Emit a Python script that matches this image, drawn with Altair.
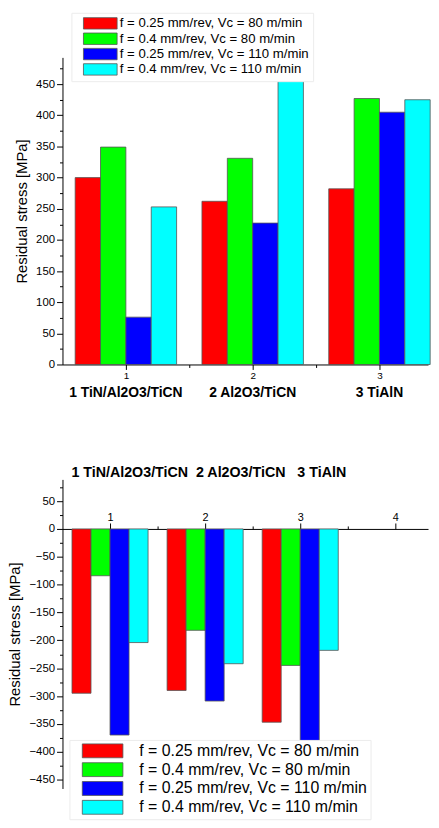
import altair as alt
import pandas as pd

# ---------------- data ----------------
coatings = ["1 TiN/Al2O3/TiCN", "2 Al2O3/TiCN", "3 TiAlN"]
group_idx = [1, 2, 3]
series = [
    "f = 0.25 mm/rev, Vc = 80 m/min",
    "f = 0.4 mm/rev, Vc = 80 m/min",
    "f = 0.25 mm/rev, Vc = 110 m/min",
    "f = 0.4 mm/rev, Vc = 110 m/min",
]
colors = ["#ff0000", "#00ff00", "#0000ff", "#00ffff"]

# upper chart (positive residual stress)
top_s1 = [300, 262, 282]
top_s2 = [349, 331, 427]
top_s3 = [76, 227, 405]
top_s4 = [253, 456, 425]

# lower chart (compressive residual stress)
bot_s1 = [-295, -290, -347]
bot_s2 = [-84, -182, -245]
bot_s3 = [-370, -309, -385]
bot_s4 = [-204, -242, -218]

top_ticks_y = list(range(0, 476, 25))
bot_ticks_y = list(range(-450, 76, 25))
top_ticks_x = [1, 1.5, 2, 2.5, 3]
bot_ticks_x = [1, 1.5, 2, 2.5, 3, 3.5, 4]

bottom_title = "1 TiN/Al2O3/TiCN\u00a0 2 Al2O3/TiCN\u00a0\u00a0 3 TiAlN"


def frame(vals_list):
    rows = []
    for s, (name, vals) in enumerate(zip(series, vals_list)):
        for g, v in zip(group_idx, vals):
            rows.append({"g": g, "s": s, "series": name, "value": v})
    return pd.DataFrame(rows)


df_top = frame([top_s1, top_s2, top_s3, top_s4])
df_bot = frame([bot_s1, bot_s2, bot_s3, bot_s4])
df_lab = pd.DataFrame({"g": group_idx, "name": coatings})

FONT = "Liberation Sans"
INT_LABEL = "datum.value % 1 === 0 ? format(datum.value, 'd') : ''"


def fill_enc(legend):
    return alt.Fill("series:N", scale=alt.Scale(domain=series, range=colors), legend=legend)


def y_axis(values):
    return alt.Axis(title="Residual stress [MPa]", values=values, grid=False,
                    labelExpr="datum.value % 50 === 0 ? datum.label : ''",
                    labelFont=FONT, labelFontSize=11.5, labelColor="#000000",
                    labelPadding=2, labelOverlap=False,
                    tickSize={"condition": {"test": "datum.value % 50 === 0", "value": 6}, "value": 3},
                    tickColor="#000000", domainColor="#000000",
                    titleFont=FONT, titleFontSize=15, titleFontWeight="normal",
                    titleColor="#000000", titlePadding=6)


# ---------------- top chart ----------------
top_legend = alt.Legend(
    orient="none", legendX=9, legendY=-45, title=None,
    symbolType="M-3.09,-1.045H3.09V1.045H-3.09Z", symbolSize=121,
    symbolStrokeColor="#555555", symbolStrokeWidth=0.8,
    symbolOffset=18.5, labelOffset=13,
    labelFont=FONT, labelFontSize=13.3, labelColor="#000000", labelLimit=400,
    rowPadding=0.5, padding=4, fillColor="#ffffff", strokeColor="#ececec",
)

top_bars = alt.Chart(df_top).transform_calculate(
    x1="datum.g - 0.4 + 0.2*datum.s", x2="datum.g - 0.2 + 0.2*datum.s", zero="0"
).mark_rect(stroke="#555555", strokeWidth=0.8).encode(
    x=alt.X("x1:Q", scale=alt.Scale(domain=[0.5, 3.383], nice=False, zero=False),
            axis=alt.Axis(title=None, values=top_ticks_x, grid=False,
                          labelExpr=INT_LABEL,
                          labelFont=FONT, labelFontSize=10, labelColor="#000000",
                          labelPadding=1, labelOverlap=False,
                          tickSize={"condition": {"test": "datum.value % 1 === 0", "value": 5}, "value": 3},
                          tickColor="#000000", domainColor="#000000")),
    x2="x2:Q",
    y=alt.Y("value:Q", scale=alt.Scale(domain=[0, 493], nice=False), axis=y_axis(top_ticks_y)),
    y2="zero:Q",
    fill=fill_enc(top_legend),
)

top_labels = alt.Chart(df_lab).mark_text(
    font=FONT, fontSize=14, fontWeight="bold", color="#000000", baseline="middle"
).encode(
    x="g:Q",
    y=alt.value(339),
    text="name:N",
)

top = alt.layer(top_bars, top_labels).properties(width=369, height=310)

# ---------------- bottom chart ----------------
bot_legend = alt.Legend(
    orient="none", legendX=7, legendY=263, title=None,
    symbolType="M-2.733,-0.933H2.733V0.933H-2.733Z", symbolSize=225,
    symbolStrokeColor="#555555", symbolStrokeWidth=0.8,
    symbolOffset=22.5, labelOffset=29,
    labelFont=FONT, labelFontSize=16, labelColor="#000000", labelLimit=400,
    rowPadding=1, padding=3, fillColor="#ffffff", strokeColor="#ececec",
)

bottom = alt.Chart(df_bot).transform_calculate(
    x1="datum.g - 0.4 + 0.2*datum.s", x2="datum.g - 0.2 + 0.2*datum.s", zero="0"
).mark_rect(stroke="#555555", strokeWidth=0.8).encode(
    x=alt.X("x1:Q", scale=alt.Scale(domain=[0.5, 4.344], nice=False, zero=False),
            axis=alt.Axis(title=None, orient="top", offset=-50, values=bot_ticks_x, grid=False,
                          labelExpr=INT_LABEL,
                          labelFont=FONT, labelFontSize=11, labelColor="#000000",
                          labelPadding=1, labelOverlap=False,
                          tickSize={"condition": {"test": "datum.value % 1 === 0", "value": 6}, "value": 3},
                          tickColor="#000000", domainColor="#000000")),
    x2="x2:Q",
    y=alt.Y("value:Q", scale=alt.Scale(domain=[-466, 89], nice=False, zero=False),
            axis=y_axis(bot_ticks_y)),
    y2="zero:Q",
    fill=fill_enc(bot_legend),
).properties(
    width=369, height=312,
    title=alt.TitleParams(bottom_title, anchor="start",
                          frame="group", dx=9, dy=12, offset=0, baseline="alphabetic",
                          font=FONT, fontSize=14.4, fontWeight="bold", color="#000000"),
)

chart = alt.vconcat(top, bottom, spacing=65).resolve_scale(
    fill="independent", x="independent", y="independent"
).resolve_legend(fill="independent").properties(padding=0).configure_view(strokeWidth=0)

chart.save("out.html", embed_options={"renderer": "svg", "actions": False})
